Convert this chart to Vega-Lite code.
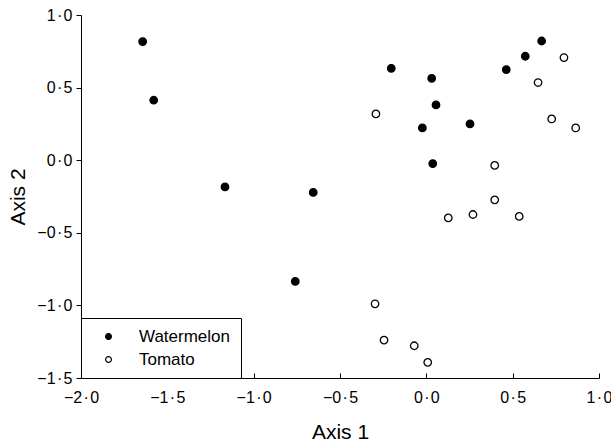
{
  "$schema": "https://vega.github.io/schema/vega-lite/v6.json",
  "width": 518,
  "height": 363,
  "autosize": "none",
  "padding": {"left": 81, "top": 15, "right": 12, "bottom": 67},
  "background": "white",
  "config": {
    "view": {"stroke": null},
    "font": "Liberation Sans",
    "axis": {
      "grid": false,
      "domainColor": "black",
      "domainWidth": 1,
      "tickColor": "black",
      "tickWidth": 1,
      "labelFont": "Liberation Sans",
      "labelFontSize": 16,
      "labelColor": "black",
      "labelFlush": false,
      "titleFont": "Liberation Sans",
      "titleFontSize": 21,
      "titleFontWeight": "normal",
      "titleColor": "black"
    }
  },
  "data": {
    "values": [
      {"a1": -1.643, "a2": 0.817, "group": "Watermelon"},
      {"a1": -1.579, "a2": 0.413, "group": "Watermelon"},
      {"a1": -1.166, "a2": -0.184, "group": "Watermelon"},
      {"a1": -0.655, "a2": -0.222, "group": "Watermelon"},
      {"a1": -0.759, "a2": -0.835, "group": "Watermelon"},
      {"a1": -0.203, "a2": 0.633, "group": "Watermelon"},
      {"a1": 0.031, "a2": 0.564, "group": "Watermelon"},
      {"a1": 0.056, "a2": 0.381, "group": "Watermelon"},
      {"a1": -0.023, "a2": 0.222, "group": "Watermelon"},
      {"a1": 0.253, "a2": 0.25, "group": "Watermelon"},
      {"a1": 0.037, "a2": -0.023, "group": "Watermelon"},
      {"a1": 0.463, "a2": 0.624, "group": "Watermelon"},
      {"a1": 0.573, "a2": 0.716, "group": "Watermelon"},
      {"a1": 0.668, "a2": 0.821, "group": "Watermelon"},
      {"a1": -0.292, "a2": 0.319, "group": "Tomato"},
      {"a1": 0.797, "a2": 0.707, "group": "Tomato"},
      {"a1": 0.647, "a2": 0.535, "group": "Tomato"},
      {"a1": 0.726, "a2": 0.284, "group": "Tomato"},
      {"a1": 0.865, "a2": 0.222, "group": "Tomato"},
      {"a1": 0.396, "a2": -0.036, "group": "Tomato"},
      {"a1": 0.396, "a2": -0.273, "group": "Tomato"},
      {"a1": 0.27, "a2": -0.374, "group": "Tomato"},
      {"a1": 0.127, "a2": -0.397, "group": "Tomato"},
      {"a1": 0.538, "a2": -0.387, "group": "Tomato"},
      {"a1": -0.297, "a2": -0.989, "group": "Tomato"},
      {"a1": -0.245, "a2": -1.239, "group": "Tomato"},
      {"a1": -0.07, "a2": -1.278, "group": "Tomato"},
      {"a1": 0.008, "a2": -1.392, "group": "Tomato"}
    ]
  },
  "mark": {"type": "point", "shape": "circle", "filled": true, "stroke": "black", "strokeWidth": 1.3, "size": 56, "opacity": 1},
  "encoding": {
    "x": {
      "field": "a1",
      "type": "quantitative",
      "scale": {"domain": [-2, 1], "nice": false, "zero": false},
      "axis": {
        "title": "Axis 1",
        "values": [-2, -1.5, -1, -0.5, 0, 0.5, 1],
        "labelExpr": "replace(format(datum.value, '.1f'), '.', '\u200a·\u200a')",
        "tickSize": -5,
        "labelPadding": 16,
        "titlePadding": 16
      }
    },
    "y": {
      "field": "a2",
      "type": "quantitative",
      "scale": {"domain": [-1.5, 1], "nice": false, "zero": false},
      "axis": {
        "title": "Axis 2",
        "values": [-1.5, -1, -0.5, 0, 0.5, 1],
        "labelExpr": "replace(format(datum.value, '.1f'), '.', '\u200a·\u200a')",
        "tickSize": 5,
        "labelPadding": 4,
        "titlePadding": 8
      }
    },
    "fill": {
      "field": "group",
      "type": "nominal",
      "scale": {"domain": ["Watermelon", "Tomato"], "range": ["black", "white"]},
      "legend": {
        "title": null,
        "orient": "bottom-left",
        "offset": 0,
        "padding": 10,
        "strokeColor": "black",
        "fillColor": "white",
        "symbolType": "circle",
        "symbolSize": 34,
        "symbolStrokeColor": "black",
        "symbolStrokeWidth": 1.2,
        "symbolOffset": 9,
        "labelOffset": 22,
        "labelFont": "Liberation Sans",
        "labelFontSize": 17,
        "labelColor": "black",
        "labelLimit": 300,
        "rowPadding": 5
      }
    }
  }
}
